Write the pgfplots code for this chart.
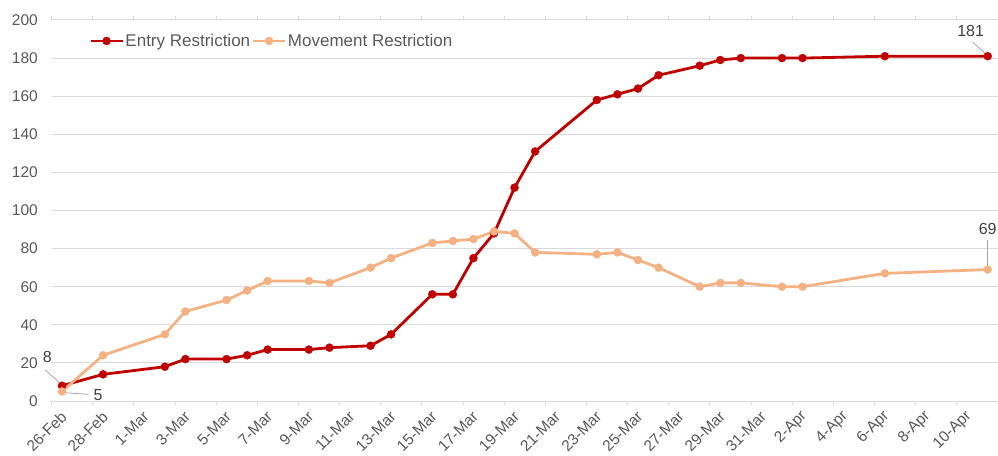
\documentclass[border=0pt]{standalone}
\usepackage{fontspec}
\setmainfont{Liberation Sans}
\usepackage{pgfplots}
\pgfplotsset{compat=1.18}
\definecolor{redS}{HTML}{C00000}
\definecolor{orgS}{HTML}{F4B183}
\definecolor{gridc}{HTML}{D9D9D9}
\definecolor{txt}{HTML}{595959}
\definecolor{lbl}{HTML}{404040}
\begin{document}
\begin{tikzpicture}
\path[use as bounding box] (-51.7pt,-54pt) rectangle (946.3pt,401pt);
\begin{axis}[
  scale only axis, width=946.3pt, height=381pt,
  xmin=-0.5, xmax=45.5, ymin=0, ymax=200,
  ytick={0,20,...,200},
  xtick={0,2,...,44},
  xticklabels={26-Feb,28-Feb,1-Mar,3-Mar,5-Mar,7-Mar,9-Mar,11-Mar,13-Mar,15-Mar,17-Mar,19-Mar,21-Mar,23-Mar,25-Mar,27-Mar,29-Mar,31-Mar,2-Apr,4-Apr,6-Apr,8-Apr,10-Apr},
  axis line style={draw=none},
  ymajorgrids, grid style={gridc, line width=1pt},
  major tick length=0pt,
  extra x ticks={-0.5,1.5,...,43.5},
  extra x tick labels={},
  extra x tick style={major tick length=4pt, tick align=outside, tick style={gridc, line width=1pt}, grid=none},
  tick label style={font=\fontsize{15.5}{18}\selectfont, text=txt},
  /pgf/number format/assume math mode=true,
  yticklabel style={anchor=east, inner sep=0pt, xshift=-13.7pt},
  xticklabel style={xshift=2pt, yshift=-13pt, rotate=45, anchor=east, inner sep=0pt},
  clip=false,
  legend columns=2,
  legend style={draw=none, fill=none, at={(0.0394,0.945)}, anchor=west, inner sep=0pt,
    font=\fontsize{17}{19}\selectfont, text=txt,
    nodes={inner xsep=1.5pt, inner ysep=1pt},
    /tikz/every even column/.style={column sep=0pt}},
  legend image code/.code={\draw[mark repeat=2, mark phase=2, #1] plot coordinates {(0pt,0pt) (16pt,0pt) (32pt,0pt)};},
]
\addplot[redS, line width=2.8pt, mark=*, mark size=4pt, mark options={fill=redS, draw=redS, line width=0.4pt}] coordinates {
(0,8) (2,14) (5,18) (6,22) (8,22) (9,24) (10,27) (12,27) (13,28) (15,29) (16,35) (18,56) (19,56) (20,75) (21,88) (22,112) (23,131) (26,158) (27,161) (28,164) (29,171) (31,176) (32,179) (33,180) (35,180) (36,180) (40,181) (45,181)};
\addlegendentry{Entry Restriction}
\addplot[orgS, line width=2.8pt, mark=*, mark size=4pt, mark options={fill=orgS, draw=orgS, line width=0.4pt}] coordinates {
(0,5) (2,24) (5,35) (6,47) (8,53) (9,58) (10,63) (12,63) (13,62) (15,70) (16,75) (18,83) (19,84) (20,85) (21,89) (22,88) (23,78) (26,77) (27,78) (28,74) (29,70) (31,60) (32,62) (33,62) (35,60) (36,60) (40,67) (45,69)};
\addlegendentry{Movement Restriction}
% data labels
\draw[gray!70, line width=0.8pt] (axis cs:-0.81,16.3) -- (axis cs:-0.12,9.6);
\node[text=lbl, font=\fontsize{16}{18}\selectfont] at (axis cs:-0.71,23.1) {8};
\draw[gray!70, line width=0.8pt] (axis cs:0.08,4.4) -- (axis cs:1.29,3.5);
\node[text=lbl, font=\fontsize{16}{18}\selectfont] at (axis cs:1.76,3.1) {5};
\draw[gray!70, line width=0.8pt] (axis cs:44.25,188.6) -- (axis cs:44.9,182.2);
\node[text=lbl, font=\fontsize{16}{18}\selectfont] at (axis cs:44.17,194.2) {181};
\draw[gray!70, line width=0.8pt] (axis cs:45,84.5) -- (axis cs:45,70.5);
\node[text=lbl, font=\fontsize{16}{18}\selectfont] at (axis cs:45,90.3) {69};
\end{axis}
\end{tikzpicture}
\end{document}
